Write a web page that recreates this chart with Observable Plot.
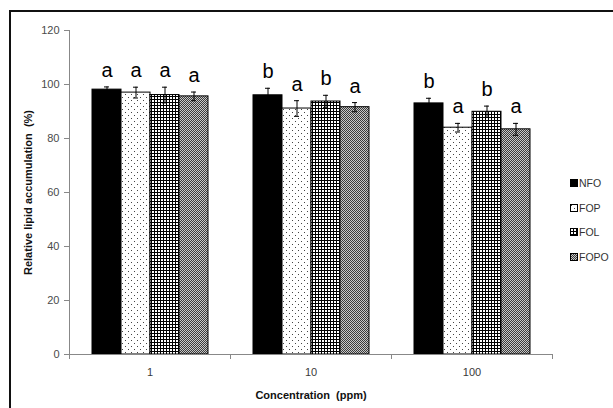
<!DOCTYPE html>
<html>
<head>
<meta charset="utf-8">
<script src="https://cdn.jsdelivr.net/npm/d3@7"></script>
<script src="https://cdn.jsdelivr.net/npm/@observablehq/plot@0.6"></script>
<style>
  html, body { margin: 0; padding: 0; background: #fff; }
  #wrap { position: relative; width: 613px; height: 408px; overflow: hidden; font-family: "Liberation Sans", Arial, sans-serif; }
  #frame { position: absolute; left: 9px; top: 10px; width: 700px; height: 500px; border-left: 2px solid #111; border-top: 2px solid #111; pointer-events: none; }
  #chart { position: absolute; left: 0; top: 0; }
  #legend { position: absolute; left: 570px; top: 177px; font-size: 10.5px; color: #333; }
  #legend .row { display: flex; align-items: center; height: 12px; margin-bottom: 12.5px; }
  #legend svg { margin-right: 1px; }
  [aria-label="fx-axis label"] text, [aria-label="y-axis label"] text { font-weight: bold; fill: #111; }
</style>
</head>
<body>
<div id="wrap">
  <div id="chart"></div>
  <div id="frame"></div>
  <div id="legend"></div>
</div>
<script>
// ---- data ----
const concentrations = ["1", "10", "100"];
const series = ["NFO", "FOP", "FOL", "FOPO"];
const nfo     = [98.1, 96.0, 93.0];
const nfoErr  = [1.0, 2.6, 1.9];
const fop     = [97.0, 91.1, 84.0];
const fopErr  = [2.0, 2.9, 1.6];
const fol     = [96.1, 93.7, 89.9];
const folErr  = [2.9, 2.3, 2.1];
const fopo    = [95.6, 91.6, 83.4];
const fopoErr = [1.6, 1.7, 2.2];
const nfoSig  = ["a", "b", "b"];
const fopSig  = ["a", "a", "a"];
const folSig  = ["a", "b", "b"];
const fopoSig = ["a", "a", "a"];
const yTicks = [0, 20, 40, 60, 80, 100, 120];

const values = [nfo, fop, fol, fopo];
const errors = [nfoErr, fopErr, folErr, fopoErr];
const sigs = [nfoSig, fopSig, folSig, fopoSig];
const fills = ["#000", "url(#pDots)", "url(#pGrid)", "url(#pGray)"];

const table = [];
concentrations.forEach((c, i) => {
  series.forEach((s, j) => {
    table.push({conc: c, series: s, value: values[j][i], err: errors[j][i], sig: sigs[j][i]});
  });
});

const plot = Plot.plot({
  width: 613,
  height: 408,
  marginLeft: 68,
  marginRight: 60,
  marginTop: 30,
  marginBottom: 54,
  style: {fontFamily: "Liberation Sans, Arial, sans-serif", background: "transparent"},
  fx: {domain: concentrations, paddingInner: 0, paddingOuter: 0},
  x: {domain: series, paddingInner: 0, paddingOuter: 0.72},
  y: {domain: [0, 120]},
  color: {domain: series, range: fills},
  marks: [
    Plot.axisY({ticks: yTicks, tickSize: 5, tickPadding: 5, stroke: "#888", color: "#4a4a4a", fontSize: 11,
      label: "Relative lipid accumulation  (%)", labelAnchor: "center", labelArrow: "none", labelOffset: 45}),
    Plot.axisFx({anchor: "bottom", tickSize: 0, tickPadding: 14, color: "#3a3a3a", fontSize: 11,
      label: "Concentration  (ppm)", labelAnchor: "center", labelArrow: "none", labelOffset: 44}),
    Plot.axisX({ticks: [], label: null}),
    Plot.barY(table, {fx: "conc", x: "series", y: "value", fill: "series", stroke: "#000", strokeWidth: 1}),
    Plot.ruleX(table, {fx: "conc", x: "series", y1: d => d.value - d.err, y2: d => d.value + d.err, stroke: "#000", strokeWidth: 1}),
    Plot.tickY(table, {fx: "conc", x: "series", y: d => d.value + d.err, stroke: "#000", strokeWidth: 1, insetLeft: 12, insetRight: 12}),
    Plot.tickY(table, {fx: "conc", x: "series", y: d => d.value - d.err, stroke: "#000", strokeWidth: 1, insetLeft: 12, insetRight: 12}),
    Plot.text(table, {fx: "conc", x: "series", y: d => d.value + d.err, text: "sig", dy: -10, lineAnchor: "bottom", fontSize: 20, fill: "#000"})
  ]
});

const svg = d3.select(plot);
const defs = svg.insert("defs", ":first-child");
// dotted pattern
const pd = defs.append("pattern").attr("id", "pDots").attr("patternUnits", "userSpaceOnUse").attr("width", 6).attr("height", 6);
pd.append("rect").attr("width", 6).attr("height", 6).attr("fill", "#fff");
pd.append("rect").attr("x", 1).attr("y", 1).attr("width", 1).attr("height", 1).attr("fill", "#444");
pd.append("rect").attr("x", 4).attr("y", 4).attr("width", 1).attr("height", 1).attr("fill", "#444");
// grid pattern
const pg = defs.append("pattern").attr("id", "pGrid").attr("patternUnits", "userSpaceOnUse").attr("width", 3).attr("height", 3);
pg.append("rect").attr("width", 3).attr("height", 3).attr("fill", "#fff");
pg.append("rect").attr("width", 3).attr("height", 1).attr("fill", "#000");
pg.append("rect").attr("width", 1).attr("height", 3).attr("fill", "#000");
// gray dither pattern
const pr = defs.append("pattern").attr("id", "pGray").attr("patternUnits", "userSpaceOnUse").attr("width", 2).attr("height", 2);
pr.append("rect").attr("width", 2).attr("height", 2).attr("fill", "#c8c8c8");
pr.append("rect").attr("width", 1).attr("height", 1).attr("fill", "#3a3a3a");
pr.append("rect").attr("x", 1).attr("y", 1).attr("width", 1).attr("height", 1).attr("fill", "#3a3a3a");

// axis lines and boundary ticks from the plot's scales
const fx = plot.scale("fx"), y = plot.scale("y");
const x0 = fx.apply(concentrations[0]);
const xEnd = fx.apply(concentrations[concentrations.length - 1]) + fx.bandwidth;
const y0 = y.apply(0), yTop = y.apply(120);
const g = svg.append("g").attr("stroke", "#888").attr("stroke-width", 1).attr("fill", "none");
g.append("line").attr("x1", x0 + 0.5).attr("x2", x0 + 0.5).attr("y1", yTop).attr("y2", y0);
g.append("line").attr("x1", x0).attr("x2", xEnd).attr("y1", y0 + 0.5).attr("y2", y0 + 0.5);
[...concentrations.map(c => fx.apply(c)), xEnd].forEach(b => {
  g.append("line").attr("x1", b + 0.5).attr("x2", b + 0.5).attr("y1", y0).attr("y2", y0 + 5);
});

document.getElementById("chart").appendChild(plot);

// legend
const legend = d3.select("#legend");
series.forEach((s, j) => {
  const row = legend.append("div").attr("class", "row");
  const sw = row.append("svg").attr("width", 8).attr("height", 8);
  sw.append("rect").attr("x", 0.5).attr("y", 0.5).attr("width", 7).attr("height", 7)
    .attr("fill", fills[j]).attr("stroke", "#000").attr("stroke-width", 1);
  row.append("span").text(s);
});
</script>
</body>
</html>
